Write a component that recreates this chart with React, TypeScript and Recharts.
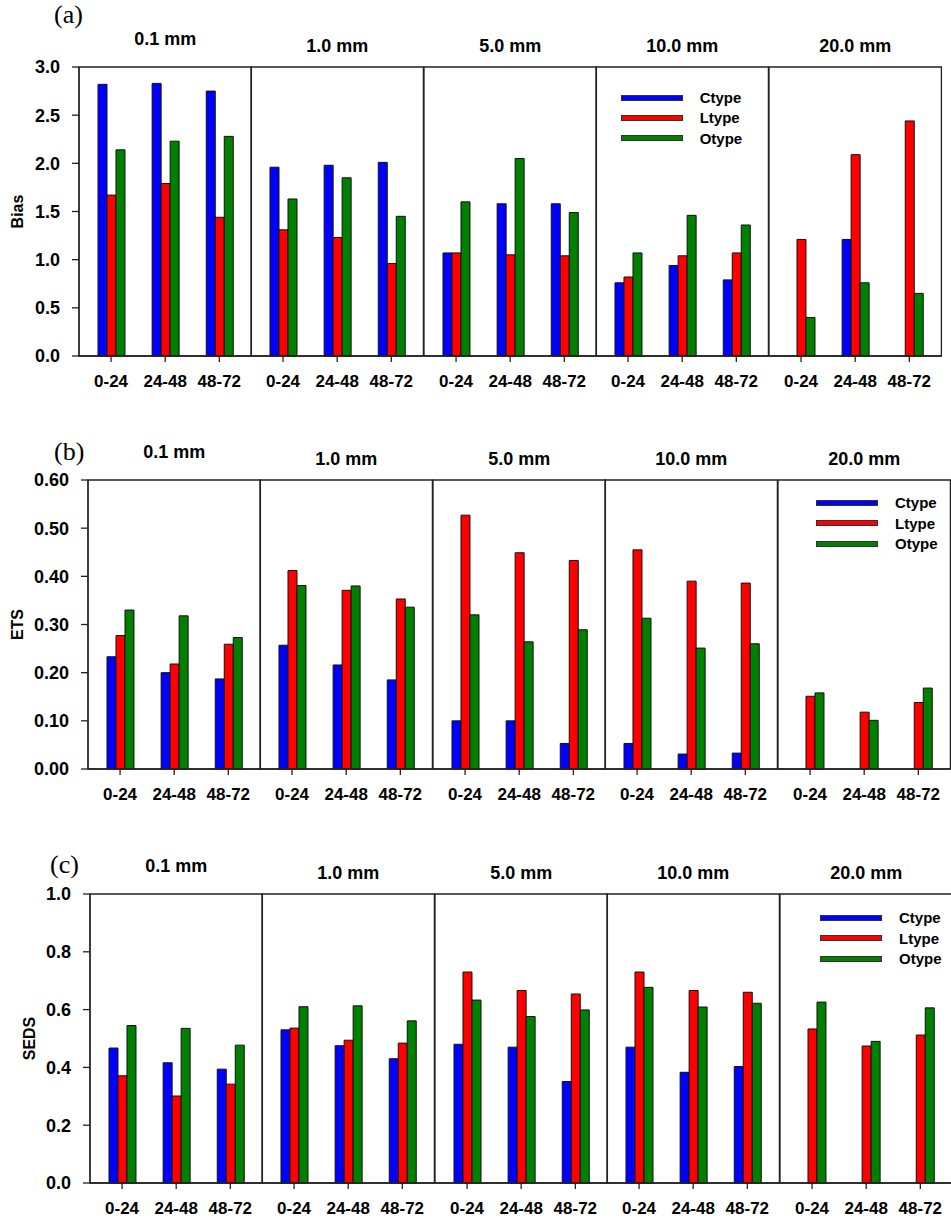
import { BarChart, Bar, XAxis, YAxis, ReferenceArea, Legend } from 'recharts'

const LEADS = ['0-24', '24-48', '48-72']
const THRESHOLDS = ['0.1 mm', '1.0 mm', '5.0 mm', '10.0 mm', '20.0 mm']

// every list runs 0.1 / 1.0 / 5.0 / 10.0 / 20.0 mm, three lead times each
const BIAS_C = [2.82, 2.83, 2.75, 1.96, 1.98, 2.01, 1.07, 1.58, 1.58, 0.76, 0.94, 0.79, null, 1.21, null]
const BIAS_L = [1.67, 1.79, 1.44, 1.31, 1.23, 0.96, 1.07, 1.05, 1.04, 0.82, 1.04, 1.07, 1.21, 2.09, 2.44]
const BIAS_O = [2.14, 2.23, 2.28, 1.63, 1.85, 1.45, 1.6, 2.05, 1.49, 1.07, 1.46, 1.36, 0.4, 0.76, 0.65]

const ETS_C = [0.233, 0.2, 0.187, 0.257, 0.216, 0.185, 0.1, 0.1, 0.053, 0.053, 0.031, 0.033, null, null, null]
const ETS_L = [0.277, 0.218, 0.259, 0.412, 0.371, 0.353, 0.527, 0.449, 0.433, 0.455, 0.39, 0.386, 0.151, 0.118, 0.138]
const ETS_O = [0.33, 0.318, 0.273, 0.381, 0.38, 0.336, 0.32, 0.264, 0.289, 0.313, 0.251, 0.26, 0.158, 0.101, 0.168]

const SEDS_C = [0.467, 0.416, 0.394, 0.53, 0.475, 0.43, 0.48, 0.47, 0.351, 0.47, 0.383, 0.403, null, null, null]
const SEDS_L = [0.371, 0.301, 0.342, 0.536, 0.494, 0.484, 0.73, 0.666, 0.654, 0.73, 0.666, 0.66, 0.533, 0.474, 0.512]
const SEDS_O = [0.545, 0.535, 0.477, 0.61, 0.613, 0.561, 0.633, 0.576, 0.599, 0.677, 0.609, 0.622, 0.626, 0.49, 0.606]

const BIAS_TICKS = [0, 0.5, 1, 1.5, 2, 2.5, 3]
const ETS_TICKS = [0, 0.1, 0.2, 0.3, 0.4, 0.5, 0.6]
const SEDS_TICKS = [0, 0.2, 0.4, 0.6, 0.8, 1]

const SERIES = [
  { key: 'Ctype', color: '#0000ff' },
  { key: 'Ltype', color: '#ff0000' },
  { key: 'Otype', color: '#008000' },
] as const

const PANELS = [
  {
    tag: '(a)', name: 'Bias', values: [BIAS_C, BIAS_L, BIAS_O], ticks: BIAS_TICKS, digits: 1,
    left: 79, top: 67, bottom: 356, tagX: 54, tagY: 0, nameOffset: 22,
    legendAt: 3, legendX: 28.5, legendY: 60.5,
  },
  {
    tag: '(b)', name: 'ETS', values: [ETS_C, ETS_L, ETS_O], ticks: ETS_TICKS, digits: 2,
    left: 88, top: 480, bottom: 769, tagX: 54, tagY: 437, nameOffset: 13,
    legendAt: 4, legendX: 42.4, legendY: 52.8,
  },
  {
    tag: '(c)', name: 'SEDS', values: [SEDS_C, SEDS_L, SEDS_O], ticks: SEDS_TICKS, digits: 1,
    left: 90, top: 894, bottom: 1183, tagX: 50, tagY: 850, nameOffset: 23,
    legendAt: 4, legendX: 44.4, legendY: 53.8,
  },
]

type Panel = (typeof PANELS)[number]

const SUB_W = 172.4
const MARGIN = { top: 40, right: 4, bottom: 0, left: 4 }
const Y_W = 84
const X_H = 40
const FONT = 'Arial, "Liberation Sans", Helvetica, sans-serif'
const INK = '#222'

function LegendBox() {
  return (
    <div style={{ fontFamily: FONT, fontSize: 15, fontWeight: 'bold', color: '#000' }}>
      {SERIES.map((s) => (
        <div key={s.key} style={{ display: 'flex', alignItems: 'center', height: 20.3 }}>
          <span
            style={{
              width: 60,
              height: 4,
              flexShrink: 0,
              background: s.color,
              border: '1px solid #333',
              marginRight: 17,
            }}
          />
          <span>{s.key}</span>
        </div>
      ))}
    </div>
  )
}

function SubPlot({ panel, idx }: { panel: Panel; idx: number }) {
  const first = idx === 0
  const rows = LEADS.map((lead, li) => {
    const row: Record<string, string | number | null> = { lead }
    SERIES.forEach((s, si) => {
      row[s.key] = panel.values[si][idx * 3 + li]
    })
    return row
  })
  const yw = first ? Y_W : 0
  const width = SUB_W + MARGIN.left + MARGIN.right + yw
  const height = MARGIN.top + (panel.bottom - panel.top) + X_H
  const left = panel.left + idx * SUB_W - MARGIN.left - yw
  const top = panel.top - MARGIN.top
  const yMax = panel.ticks[panel.ticks.length - 1]

  return (
    <div style={{ position: 'absolute', left, top }}>
      <BarChart width={width} height={height} data={rows} margin={MARGIN} barGap={0}>
        <XAxis
          dataKey="lead"
          height={X_H}
          padding={{ left: 5, right: 5 }}
          tickSize={6}
          tickMargin={13}
          interval={0}
          axisLine={{ stroke: INK, strokeWidth: 1.3 }}
          tickLine={{ stroke: INK, strokeWidth: 1.3 }}
          tick={{ fontSize: 17, fontWeight: 'bold', fill: '#000', fontFamily: FONT }}
        />
        <XAxis xAxisId="frame" dataKey="lead" hide />
        {first ? (
          <YAxis
            width={Y_W}
            domain={[0, yMax]}
            ticks={panel.ticks}
            interval={0}
            tickSize={7}
            tickMargin={12}
            tickFormatter={(v: number) => v.toFixed(panel.digits)}
            axisLine={{ stroke: INK, strokeWidth: 1.3 }}
            tickLine={{ stroke: INK, strokeWidth: 1.3 }}
            tick={{ fontSize: 18, fontWeight: 'bold', fill: '#000', fontFamily: FONT }}
            label={{
              value: panel.name,
              angle: -90,
              position: 'insideLeft',
              offset: panel.nameOffset,
              textAnchor: 'middle',
              fontSize: 16,
              fontWeight: 'bold',
              fill: '#000',
              fontFamily: FONT,
            }}
          />
        ) : (
          <YAxis hide domain={[0, yMax]} />
        )}
        <ReferenceArea
          xAxisId="frame"
          y1={0}
          y2={yMax}
          fill="none"
          stroke={INK}
          strokeWidth={1.3}
          ifOverflow="visible"
          label={{
            value: THRESHOLDS[idx],
            position: 'top',
            offset: first ? 22 : 15,
            fontSize: 18,
            fontWeight: 'bold',
            fill: '#000',
            fontFamily: FONT,
          }}
        />
        {SERIES.map(({ key, color }) => (
          <Bar
            key={key}
            dataKey={key}
            fill={color}
            barSize={9}
            stroke="#111"
            strokeWidth={1}
            isAnimationActive={false}
          />
        ))}
        {idx === panel.legendAt && (
          <Legend
            layout="vertical"
            align="center"
            verticalAlign="middle"
            wrapperStyle={{ left: panel.legendX, top: panel.legendY, width: 150 }}
            content={() => <LegendBox />}
          />
        )}
      </BarChart>
    </div>
  )
}

export default function App() {
  return (
    <div style={{ position: 'absolute', left: 0, top: 0, width: 951, height: 1219, background: '#fff', overflow: 'hidden' }}>
      {PANELS.map((panel) => (
        <div key={panel.tag}>
          {THRESHOLDS.map((t, idx) => (
            <SubPlot key={t} panel={panel} idx={idx} />
          ))}
          <div
            style={{
              position: 'absolute',
              left: panel.tagX,
              top: panel.tagY,
              fontFamily: '"Times New Roman", "Liberation Serif", serif',
              fontSize: 26,
              lineHeight: '30px',
            }}
          >
            {panel.tag}
          </div>
        </div>
      ))}
    </div>
  )
}
